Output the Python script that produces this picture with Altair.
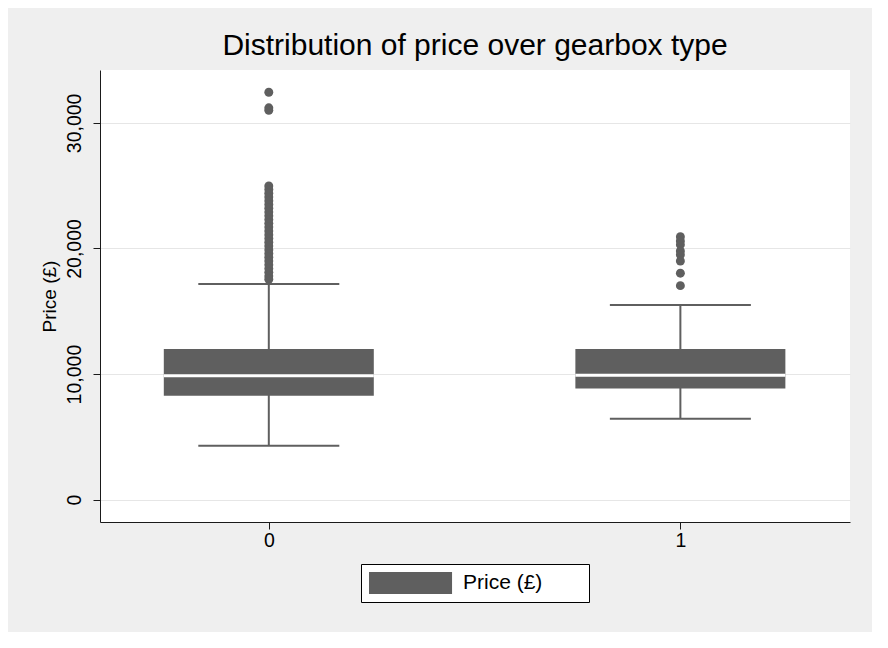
import altair as alt
import pandas as pd

# ---- data ----
gearbox = [0, 1]
q1 = [8280, 8840]
median = [9865, 9900]
q3 = [12000, 12000]
whisker_lo = [4300, 6450]
whisker_hi = [17170, 15500]
series_name = ["Price (£)", "Price (£)"]

outliers_0 = [32440, 31200, 31000,
              24980, 24700, 24400, 24100, 23800, 23500, 23200, 22900, 22600,
              22300, 22000, 21700, 21400, 21100, 20800, 20500, 20200, 19900,
              19600, 19300, 19000, 18700, 18400, 18100, 17800, 17550]
outliers_1 = [20940, 20600, 20300, 19800, 19500, 19000, 18030, 17040]

FONT = "Liberation Sans"
BOX = "#5f5f5f"

boxes = pd.DataFrame({
    "gearbox": gearbox, "q1": q1, "median": median, "q3": q3,
    "lo": whisker_lo, "hi": whisker_hi, "series": series_name,
})
outl = pd.DataFrame({
    "gearbox": [0] * len(outliers_0) + [1] * len(outliers_1),
    "price": outliers_0 + outliers_1,
})

xs = alt.Scale(domain=[-0.398, 1.4], nice=False, zero=False)
ys = alt.Scale(domain=[-1780, 34210], nice=False, zero=False)

x_axis = alt.Axis(values=[0, 1], format="d", title=None, grid=False,
                  tickSize=7, tickColor="#1a1a1a", domainColor="#1a1a1a",
                  labelFont=FONT, labelFontSize=19.5, labelColor="#000000",
                  labelPadding=2)
y_axis = alt.Axis(values=[0, 10000, 20000, 30000], format=",.0f",
                  title="Price (£)", grid=True, gridColor="#e6e6e6",
                  tickSize=7, tickColor="#1a1a1a", domainColor="#1a1a1a",
                  labelAngle=-90, labelAlign="center", labelBaseline="bottom",
                  labelPadding=9, labelFont=FONT, labelFontSize=19.5,
                  labelColor="#000000", titleFont=FONT, titleFontSize=19,
                  titleFontWeight="normal", titleColor="#000000",
                  titleX=-51, titleY=226, titleBaseline="middle",
                  titleAlign="center", titleAngle=-90)

base = alt.Chart(boxes)

whisk = base.mark_rule(color=BOX, strokeWidth=2).encode(
    x=alt.X("gearbox:Q", scale=xs, axis=x_axis),
    y=alt.Y("lo:Q", scale=ys, axis=y_axis),
    y2="hi:Q",
)
caps_lo = base.mark_tick(orient="horizontal", color=BOX, size=141,
                         thickness=2, opacity=1).encode(
    x=alt.X("gearbox:Q", scale=xs), y=alt.Y("lo:Q", scale=ys))
caps_hi = base.mark_tick(orient="horizontal", color=BOX, size=141,
                         thickness=2, opacity=1).encode(
    x=alt.X("gearbox:Q", scale=xs), y=alt.Y("hi:Q", scale=ys))

# legend swatch: 22px tall (sqrt of size), stretched to 83px to the right;
# the empty sub-path only widens the legend frame
box = base.mark_bar(size=210).encode(
    x=alt.X("gearbox:Q", scale=xs),
    y=alt.Y("q1:Q", scale=ys),
    y2="q3:Q",
    color=alt.Color("series:N", scale=alt.Scale(range=[BOX]),
                    legend=alt.Legend(
                        title=None, orient="none", legendX=261, legendY=494,
                        strokeColor="#000000", fillColor="#ffffff", padding=8,
                        symbolType="M-1,-1L6.55,-1L6.55,1L-1,1Z M18.2,0L18.2,0",
                        symbolSize=484, symbolStrokeWidth=0, symbolOpacity=1,
                        labelFont=FONT, labelFontSize=21, labelColor="#000000",
                        labelOffset=72)),
)
med = base.mark_tick(orient="horizontal", color="#ffffff", size=210,
                     thickness=3, opacity=1).encode(
    x=alt.X("gearbox:Q", scale=xs), y=alt.Y("median:Q", scale=ys))

pts = alt.Chart(outl).mark_point(filled=True, color=BOX, size=80,
                                 opacity=1).encode(
    x=alt.X("gearbox:Q", scale=xs), y=alt.Y("price:Q", scale=ys))

chart = alt.layer(whisk, caps_lo, caps_hi, box, med, pts).properties(
    width=750, height=452,
    title=alt.TitleParams("Distribution of price over gearbox type",
                          font=FONT, fontSize=30, fontWeight="normal",
                          color="#000000", anchor="middle",
                          baseline="alphabetic", offset=13, dy=28),
    autosize=alt.AutoSizeParams(type="none"),
    padding={"left": 92, "top": 62, "right": 22, "bottom": 110},
    background="#efefef",
).configure_view(stroke=None, fill="#ffffff")

chart.save("out.html", embed_options={"renderer": "svg", "actions": False})
